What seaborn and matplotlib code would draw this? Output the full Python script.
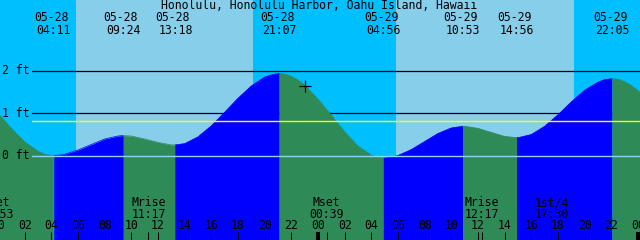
import matplotlib
matplotlib.use("Agg")
import matplotlib.pyplot as plt
import matplotlib.transforms as mtrans
import seaborn as sns
import pandas as pd

# ---------------- data (hours after 05-28 00:00, heights in ft) ----------------
title = "Honolulu, Honolulu Harbor, Oahu Island, Hawaii"

# tide curve samples, grouped by segment between extremes
seg_hours = [
    [-1, 0, 1, 2, 3, 3.5, 4, 4.18],
    [4.18, 4.6, 5, 6, 7, 8, 9, 9.40],
    [9.40, 10, 11, 12, 13, 13.30],
    [13.30, 14, 15, 16, 17, 18, 19, 20, 20.5, 21, 21.12],
    [21.12, 21.5, 22, 22.5, 23, 24, 25, 26, 27, 28, 28.5, 28.93],
    [28.93, 29, 29.5, 30, 31, 32, 33, 34, 34.88],
    [34.88, 35, 36, 37, 38, 38.93],
    [38.93, 39, 40, 41, 42, 43, 44, 45, 45.5, 46, 46.08],
    [46.08, 46.5, 47, 47.5, 48, 49],
]
seg_ft = [
    [1.36, 1.00, 0.64, 0.32, 0.10, 0.033, 0.00, 0.00],
    [0.00, 0.01, 0.03, 0.13, 0.26, 0.39, 0.46, 0.47],
    [0.47, 0.46, 0.39, 0.31, 0.25, 0.25],
    [0.25, 0.28, 0.44, 0.70, 1.02, 1.35, 1.64, 1.85, 1.90, 1.93, 1.93],
    [1.93, 1.92, 1.87, 1.78, 1.66, 1.33, 0.95, 0.56, 0.22, 0.01, -0.045, -0.06],
    [-0.06, -0.06, -0.04, 0.00, 0.14, 0.33, 0.52, 0.65, 0.69],
    [0.69, 0.69, 0.64, 0.545, 0.45, 0.42],
    [0.42, 0.42, 0.495, 0.69, 0.96, 1.265, 1.54, 1.73, 1.79, 1.81, 1.81],
    [1.81, 1.80, 1.74, 1.65, 1.53, 1.21],
]
seg_rising = [False, True, False, True, False, True, False, True, False]

# tide events (top labels)
event_hours = [4.183, 9.40, 13.30, 21.117, 28.933, 34.883, 38.933, 46.083]
event_dates = ["05-28", "05-28", "05-28", "05-28", "05-29", "05-29", "05-29", "05-29"]
event_times = ["04:11", "09:24", "13:18", "21:07", "04:56", "10:53", "14:56", "22:05"]

# sun: daylight intervals
sunrise_hours = [5.85, 29.85]
sunset_hours = [19.10, 43.20]

# moon events (bottom labels)
moon_hours = [-0.12, 11.283, 24.65, 36.283, 41.50]
moon_names = ["Mset", "Mrise", "Mset", "Mrise", "1st/4"]
moon_times = ["23:53", "11:17", "00:39", "12:17", "17:30"]

# y axis levels
level_ft = [2, 1, 0]
level_labels = ["2 ft", "1 ft", "0 ft"]
msl_ft = 0.82

# x axis hour ticks
tick_hours = list(range(0, 50, 2))
tick_labels = ["%02d" % (h % 24) for h in tick_hours]

# current time marker
now_hour = 23.03
now_ft = 1.65

# ---------------- figure ----------------
sns.set_theme(style="white")
plt.rcParams["font.family"] = ["DejaVu Sans Mono", "DejaVu Sans"]

NIGHT = "#00BFFF"
DAY = "#87CEEB"
RISE = "#0000FF"
FALL = "#2E8B57"

W, H = 640, 240
fig = plt.figure(figsize=(W / 100, H / 100), dpi=100)
ax = fig.add_axes([0, 0, 1, 1])
ax.set_facecolor(NIGHT)
px_per_ft = 42.4
ax.set_xlim(0.15, 48.15)
ax.set_ylim(-84.5 / px_per_ft, 155.5 / px_per_ft)
fig.patch.set_facecolor(NIGHT)

for sr, ss in zip(sunrise_hours, sunset_hours):
    ax.axvspan(sr, ss, color=DAY, lw=0, zorder=0.5)

xmin_frac = 32 / W
for lv in level_ft[:2]:
    ax.axhline(lv, xmin=xmin_frac, xmax=1, color="black", lw=0.9, zorder=1)

# water
rows = []
for i, (hs, fs) in enumerate(zip(seg_hours, seg_ft)):
    col = RISE if seg_rising[i] else FALL
    ax.fill_between(hs, fs, -5, color=col, lw=0, zorder=2)
    for h, f in zip(hs, fs):
        rows.append({"hour": h, "ft": f, "seg": "s%d" % i})
df = pd.DataFrame(rows)
palette = {"s%d" % i: (RISE if r else FALL) for i, r in enumerate(seg_rising)}
sns.lineplot(data=df, x="hour", y="ft", hue="seg", palette=palette, legend=False,
             estimator=None, sort=False, lw=0.5, ax=ax, zorder=2.1)
ax.set_xlim(0.15, 48.15)
ax.set_ylim(-84.5 / px_per_ft, 155.5 / px_per_ft)
ax.set_axis_off()

ax.axhline(msl_ft, xmin=xmin_frac, xmax=1, color="#FFFF00", lw=1.0, zorder=3)
ax.axhline(0, xmin=xmin_frac, xmax=1, color="#8FD3F0", lw=1.0, zorder=3)

ax.plot([now_hour], [now_ft], marker="+", color="black", ms=8, mew=0.9, zorder=4)

FS = 8.3
figT = fig.transFigure
bl = mtrans.blended_transform_factory(ax.transData, figT)
yl = mtrans.blended_transform_factory(figT, ax.transData)

def yf(ypix):
    return 1 - ypix / H

# y labels
for lv, lab in zip(level_ft, level_labels):
    ax.text(2 / W, lv, lab, transform=yl, ha="left", va="center",
            fontsize=FS, color="black", zorder=5)

# title
fig.text(318.7 / W, yf(5.8), title, ha="center", va="center", fontsize=FS, color="black")

# tide events
dpx = 1 / 13.333
for h, d, t in zip(event_hours, event_dates, event_times):
    ax.text(h - 2.5 * dpx, yf(17.5), d, transform=bl, ha="center", va="center",
            fontsize=FS, color="black", zorder=5)
    ax.text(h, yf(30.2), t, transform=bl, ha="center", va="center",
            fontsize=FS, color="black", zorder=5)

# hour ticks and labels
for h, lab in zip(tick_hours, tick_labels):
    thick = (h % 24 == 0)
    ax.plot([h, h], [yf(232), yf(240)], transform=bl, color="black",
            lw=2.9 if thick else 0.75, solid_capstyle="butt", zorder=5, clip_on=False)
    ax.text(h, yf(225.3), lab, transform=bl, ha="center", va="center",
            fontsize=FS, color="black", zorder=5)

# moon events
for h, n, t in zip(moon_hours, moon_names, moon_times):
    ax.plot([h, h], [yf(232), yf(240)], transform=bl, color="black", lw=0.75,
            solid_capstyle="butt", zorder=5)
    ax.text(h, yf(202.5), n, transform=bl, ha="center", va="center",
            fontsize=FS, color="black", zorder=5)
    ax.text(h, yf(214.5), t, transform=bl, ha="center", va="center",
            fontsize=FS, color="black", zorder=5)

fig.savefig("out.png", dpi=100, facecolor=fig.get_facecolor())
